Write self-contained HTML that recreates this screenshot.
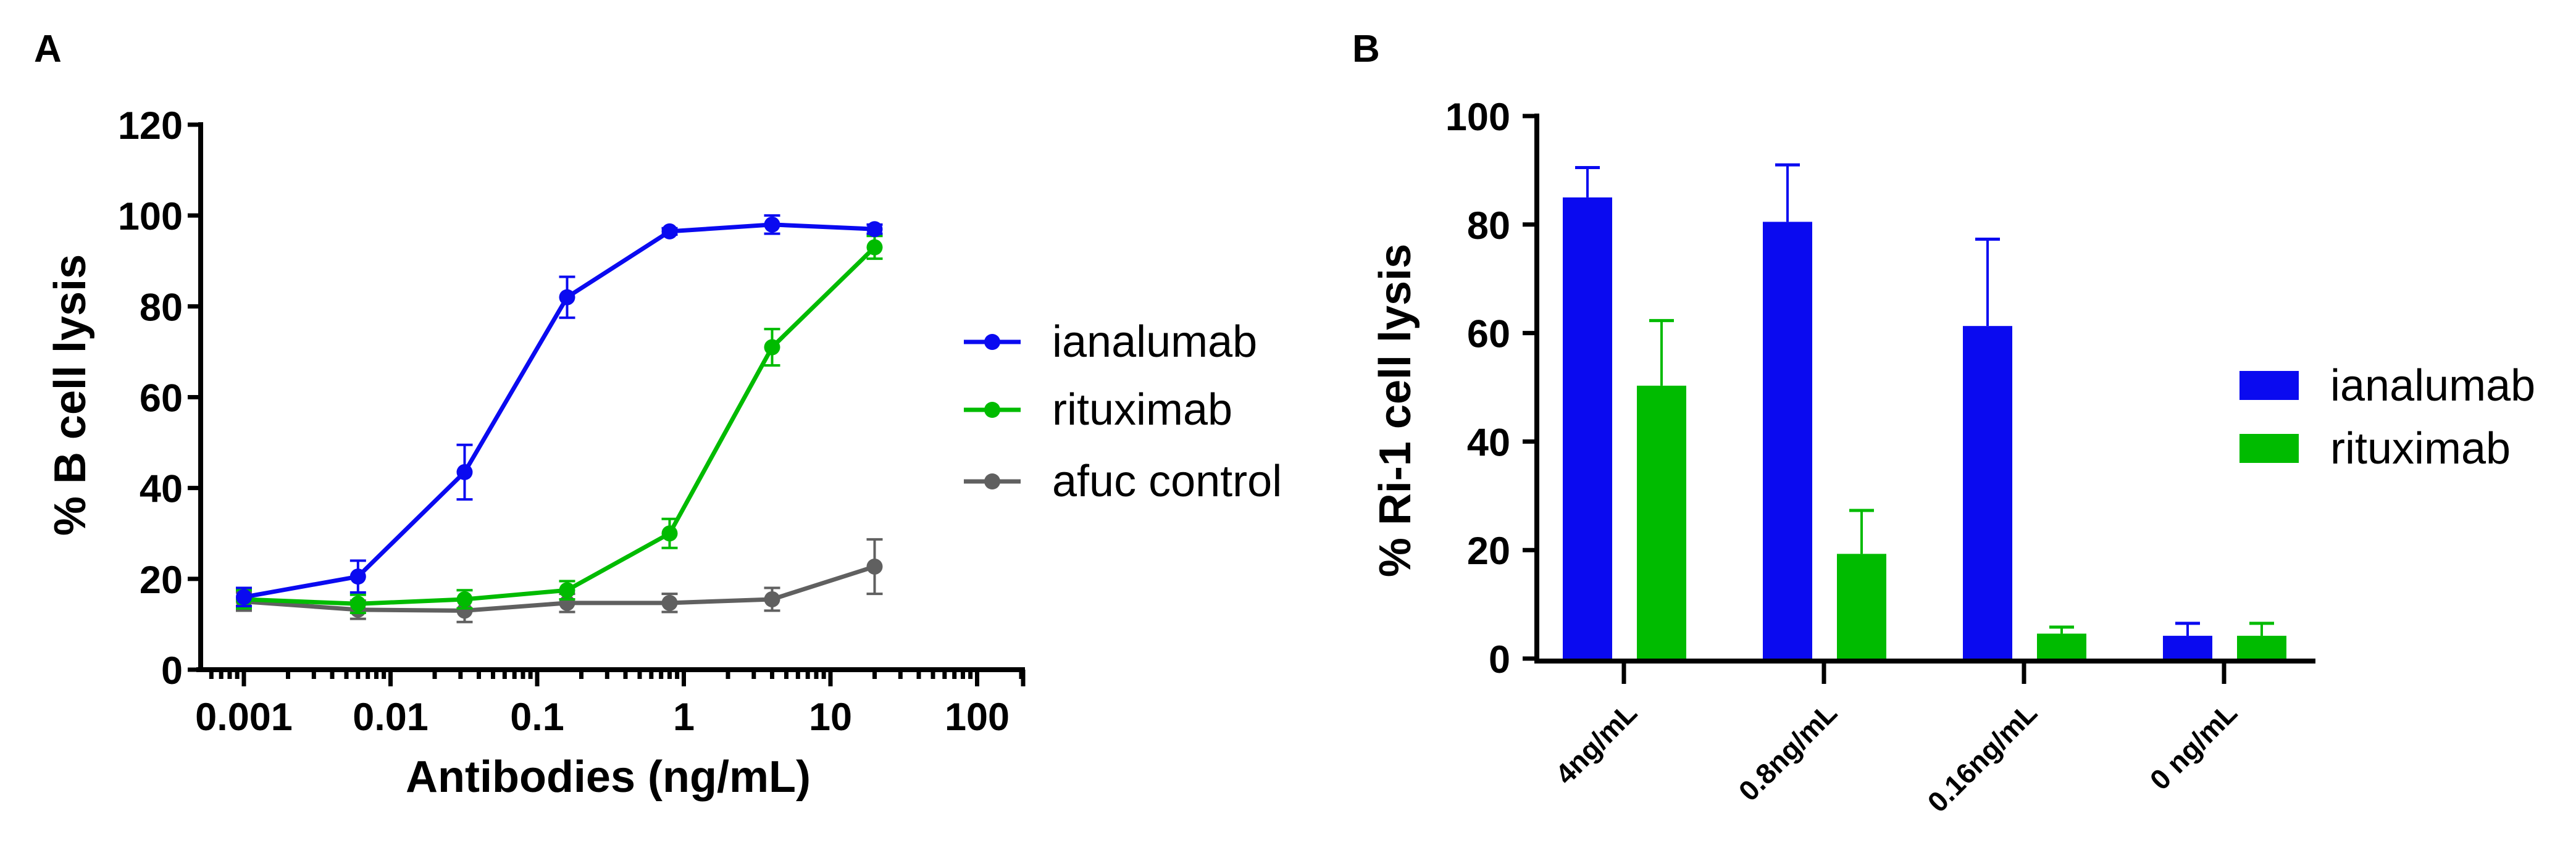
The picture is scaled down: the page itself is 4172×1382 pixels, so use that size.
<!DOCTYPE html>
<html><head><meta charset="utf-8"><style>
html,body{margin:0;padding:0;background:#fff;}
svg{display:block;font-family:"Liberation Sans",Arial,sans-serif;}
</style></head><body>
<svg id="fig" width="4172" height="1382" viewBox="0 0 4172 1382" xmlns="http://www.w3.org/2000/svg">
<text x="55" y="100" font-size="62" font-weight="bold">A</text>
<text x="2190" y="100" font-size="62" font-weight="bold">B</text>
<g id="pa"></g>
<g id="pb"></g>
</svg>
<script>
// Panel A data
const concA = [0.001, 0.006, 0.032, 0.16, 0.8, 4, 20];
const ianaA = [16, 20.5, 43.5, 82, 96.5, 98, 97];
const ianaErrA = [2, 3.5, 6, 4.5, 0.7, 2, 1];
const ritA = [15.5, 14.5, 15.5, 17.5, 30, 71, 93];
const ritErrA = [2, 2, 2, 2, 3.2, 4, 2.5];
const afucA = [15, 13.2, 13, 14.7, 14.7, 15.5, 22.7];
const afucErrA = [2, 2, 2.5, 2, 2, 2.5, 6];
const yTicksA = [0, 20, 40, 60, 80, 100, 120];
const xTickLabelsA = ["0.001", "0.01", "0.1", "1", "10", "100"];
// Panel B data
const catsB = ["4ng/mL", "0.8ng/mL", "0.16ng/mL", "0 ng/mL"];
const ianaB = [85, 80.5, 61.3, 4.2];
const ianaErrB = [5.5, 10.5, 16, 2.3];
const ritB = [50.3, 19.3, 4.6, 4.2];
const ritErrB = [12, 8, 1.2, 2.3];
const yTicksB = [0, 20, 40, 60, 80, 100];

const NS = "http://www.w3.org/2000/svg";
function mk(parent, tag, attrs, text) {
  const e = document.createElementNS(NS, tag);
  for (const k in attrs) e.setAttribute(k, attrs[k]);
  if (text !== undefined) e.textContent = text;
  parent.appendChild(e);
  return e;
}
const BLUE = "#0a0af0", GREEN = "#00bb00", GREY = "#606060";

// ---------- Panel A ----------
const pa = document.getElementById("pa");
const ax = v => 395 + (Math.log10(v) + 3) * 237.5;
const ay = v => 1085 - v * (1085 - 202) / 120;
const axL = 325, axR = 1660;
let e;
e = mk(pa, "line", {x1: axL, y1: 198, x2: axL, y2: 1089, stroke: "#000", "stroke-width": 8});


e = mk(pa, "line", {x1: 318, y1: 1085, x2: axR, y2: 1085, stroke: "#000", "stroke-width": 8});


yTicksA.forEach(t => {
  mk(pa, "line", {x1: 304, y1: ay(t), x2: axL, y2: ay(t), stroke: "#000", "stroke-width": 7});
  e = mk(pa, "text", {x: 296, y: ay(t) + 23, "font-size": 63, "font-weight": "bold", "text-anchor": "end"}, String(t));
  
  
});
for (let d = -4; d <= 2; d++) {
  for (let m = 1; m <= 9; m++) {
    const v = m * Math.pow(10, d);
    const x = ax(v);
    if (x < axL || x > axR + 1) continue;
    const major = m === 1;
    mk(pa, "line", {x1: x, y1: 1085, x2: x, y2: major ? 1112 : 1100, stroke: "#000", "stroke-width": 7});
  }
}
mk(pa, "line", {x1: axR - 3, y1: 1085, x2: axR - 3, y2: 1112, stroke: "#000", "stroke-width": 7});
xTickLabelsA.forEach((lab, i) => {
  e = mk(pa, "text", {x: ax(Math.pow(10, i - 3)), y: 1183, "font-size": 63, "font-weight": "bold", "text-anchor": "middle"}, lab);
  
  
});
e = mk(pa, "text", {x: 985, y: 1283, "font-size": 72, "font-weight": "bold", "text-anchor": "middle"}, "Antibodies (ng/mL)");


e = mk(pa, "text", {x: 0, y: 0, "font-size": 72, "font-weight": "bold", "text-anchor": "middle", transform: "translate(138,640) rotate(-90)"}, "% B cell lysis");



function series(vals, errs, col, name) {
  const g = mk(pa, "g", {});
  
  
  vals.forEach((v, i) => {
    const x = ax(concA[i]);
    const y1 = ay(v + errs[i]), y2 = ay(v - errs[i]);
    mk(g, "line", {x1: x, y1: y1, x2: x, y2: y2, stroke: col, "stroke-width": 4});
    mk(g, "line", {x1: x - 13, y1: y1, x2: x + 13, y2: y1, stroke: col, "stroke-width": 4});
    mk(g, "line", {x1: x - 13, y1: y2, x2: x + 13, y2: y2, stroke: col, "stroke-width": 4});
  });
  const pts = vals.map((v, i) => ax(concA[i]) + "," + ay(v)).join(" ");
  mk(g, "polyline", {points: pts, fill: "none", stroke: col, "stroke-width": 7, "stroke-linejoin": "round"});
  vals.forEach((v, i) => {
    const c = mk(g, "circle", {cx: ax(concA[i]), cy: ay(v), r: 13, fill: col});
    
    
  });
}
series(afucA, afucErrA, GREY, "afuc-control");
series(ritA, ritErrA, GREEN, "rituximab");
series(ianaA, ianaErrA, BLUE, "ianalumab");

const legA = [["ianalumab", BLUE, 554], ["rituximab", GREEN, 664], ["afuc control", GREY, 780]];
legA.forEach(([lab, col, y]) => {
  const g = mk(pa, "g", {});
  
  
  mk(g, "line", {x1: 1561, y1: y, x2: 1653, y2: y, stroke: col, "stroke-width": 7});
  mk(g, "circle", {cx: 1607, cy: y, r: 13, fill: col});
  mk(g, "text", {x: 1704, y: y + 24, "font-size": 72}, lab);
});

// ---------- Panel B ----------
const pb = document.getElementById("pb");
const by = v => 1067 - v * (1067 - 188) / 100;
const bx = i => 2630 + i * 324;
const bL = 2489, bR = 3750;
e = mk(pb, "line", {x1: bL, y1: 184, x2: bL, y2: 1075, stroke: "#000", "stroke-width": 8});


yTicksB.forEach(t => {
  mk(pb, "line", {x1: 2466, y1: by(t), x2: bL, y2: by(t), stroke: "#000", "stroke-width": 7});
  e = mk(pb, "text", {x: 2446, y: by(t) + 23, "font-size": 63, "font-weight": "bold", "text-anchor": "end"}, String(t));
  
  
});
e = mk(pb, "text", {x: 0, y: 0, "font-size": 72, "font-weight": "bold", "text-anchor": "middle", transform: "translate(2284,665) rotate(-90)"}, "% Ri-1 cell lysis");



function bars(vals, errs, col, off, name) {
  vals.forEach((v, i) => {
    const cx = bx(i) + off;
    const r = mk(pb, "rect", {x: cx - 40, y: by(v), width: 80, height: by(0) - by(v), fill: col});
    
    
    const ye = by(v + errs[i]);
    mk(pb, "line", {x1: cx, y1: by(v), x2: cx, y2: ye, stroke: col, "stroke-width": 4});
    mk(pb, "line", {x1: cx - 20, y1: ye, x2: cx + 20, y2: ye, stroke: col, "stroke-width": 5});
  });
}
bars(ianaB, ianaErrB, BLUE, -59, "ianalumab");
bars(ritB, ritErrB, GREEN, 61, "rituximab");
e = mk(pb, "line", {x1: 2485, y1: 1071, x2: bR, y2: 1071, stroke: "#000", "stroke-width": 8});


catsB.forEach((c, i) => {
  mk(pb, "line", {x1: bx(i), y1: 1071, x2: bx(i), y2: 1108, stroke: "#000", "stroke-width": 7});
  e = mk(pb, "text", {x: 0, y: 0, "font-size": 46, "font-weight": "bold", "text-anchor": "end", transform: `translate(${bx(i) + 24},${1158}) rotate(-45)`}, c);
  
  
});
const legB = [["ianalumab", BLUE, 601], ["rituximab", GREEN, 703]];
legB.forEach(([lab, col, y]) => {
  const g = mk(pb, "g", {});
  
  
  mk(g, "rect", {x: 3627, y: y, width: 96, height: 47, fill: col});
  mk(g, "text", {x: 3774, y: y + 48, "font-size": 72}, lab);
});
</script>
</body></html>
